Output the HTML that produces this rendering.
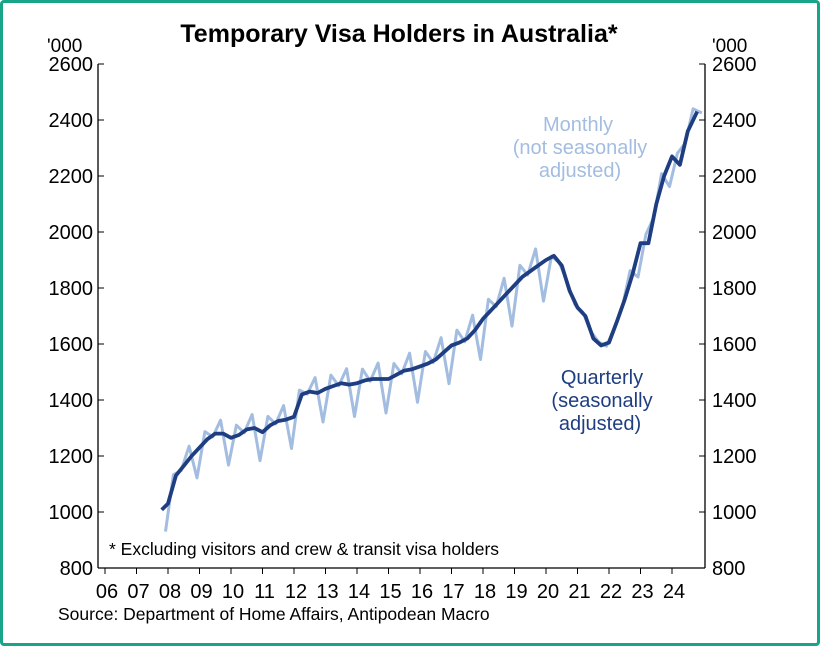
<!DOCTYPE html>
<html><head><meta charset="utf-8"><style>
body{margin:0;background:#fff}
#w{position:relative;width:814px;height:640px;border:3px solid #17a589;border-radius:4px;overflow:hidden;font-family:"Liberation Sans",sans-serif}
</style></head><body><div id="w">
<svg id="s" width="814" height="640" viewBox="3 3 814 640" style="position:absolute;left:0;top:0" font-family="Liberation Sans, sans-serif"></svg>
</div>
<script>
const s=document.getElementById('s');
const X=y=>105+(y-2006)*31.5, Y=v=>568-(v-800)*0.28;
let h='';
h+='<text x="399" y="42" font-size="25" font-weight="bold" text-anchor="middle">Temporary Visa Holders in Australia*</text>';
h+='<text x="47" y="52" font-size="19">\'000</text><text x="712" y="52" font-size="19">\'000</text>';
h+='<line x1="98" y1="64" x2="98" y2="568" stroke="#000" stroke-width="1.3"/><line x1="705" y1="64" x2="705" y2="568" stroke="#000" stroke-width="1.3"/><line x1="98" y1="568" x2="705" y2="568" stroke="#000" stroke-width="1.3"/>';
for(let v=800;v<=2600;v+=200){const y=Y(v);h+=`<line x1="98" y1="${y}" x2="104" y2="${y}" stroke="#000"/><line x1="699" y1="${y}" x2="705" y2="${y}" stroke="#000"/><text x="93" y="${y+7}" font-size="20" text-anchor="end">${v}</text><text x="712" y="${y+7}" font-size="20">${v}</text>`;}
for(let yr=2006;yr<=2024;yr++){const x=X(yr);h+=`<line x1="${x}" y1="568" x2="${x}" y2="574" stroke="#000"/><text x="${x+2}" y="598" font-size="20" text-anchor="middle">${String(yr).slice(2)}</text>`;}
const q=[[2007.8,1008],[2008,1030],[2008.25,1130],[2008.5,1165],[2008.75,1200],[2009,1230],[2009.25,1260],[2009.5,1280],[2009.75,1280],[2010,1265],[2010.25,1275],[2010.5,1295],[2010.75,1300],[2011,1285],[2011.25,1310],[2011.5,1325],[2011.75,1330],[2012,1340],[2012.25,1420],[2012.5,1430],[2012.75,1425],[2013,1440],[2013.25,1450],[2013.5,1460],[2013.75,1455],[2014,1460],[2014.25,1470],[2014.5,1475],[2014.75,1475],[2015,1475],[2015.25,1490],[2015.5,1505],[2015.75,1510],[2016,1520],[2016.25,1530],[2016.5,1545],[2016.75,1570],[2017,1595],[2017.25,1605],[2017.5,1620],[2017.75,1650],[2018,1690],[2018.25,1720],[2018.5,1750],[2018.75,1780],[2019,1810],[2019.25,1840],[2019.5,1860],[2019.75,1880],[2020,1900],[2020.25,1915],[2020.5,1880],[2020.75,1790],[2021,1730],[2021.25,1700],[2021.5,1620],[2021.75,1595],[2022,1605],[2022.25,1680],[2022.5,1760],[2022.75,1850],[2023,1960],[2023.25,1960],[2023.5,2100],[2023.75,2200],[2024,2270],[2024.25,2240],[2024.5,2360],[2024.8,2430]];
const interp=t=>{for(let i=0;i<q.length-1;i++){if(t>=q[i][0]&&t<=q[i+1][0]){const f=(t-q[i][0])/(q[i+1][0]-q[i][0]);return q[i][1]+f*(q[i+1][1]-q[i][1]);}}return q[q.length-1][1];};
let dp=q.map(p=>X(p[0]).toFixed(1)+','+Y(p[1]).toFixed(1)).join(' ');
const seas=[35,-5,45,-95];
let mp=[X(2007.92).toFixed(1)+','+Y(930).toFixed(1)];
for(let yr=2008;yr<=2024;yr++){for(let i=0;i<4;i++){const t=yr+0.17+i*0.25;if(t>2024.85)break;let v=interp(t);let k=1+(t-2008)*0.04;if(t>2020.1&&t<2022.4)k=0.1;else if(t>2022.4)k=0.9;v+=seas[i]*k;mp.push(X(t).toFixed(1)+','+Y(v).toFixed(1));}}
mp.push(X(2024.95).toFixed(1)+','+Y(2425).toFixed(1));
h+=`<polyline points="${mp.join(' ')}" fill="none" stroke="#a3bde0" stroke-width="3" stroke-linejoin="round"/>`;
h+=`<polyline points="${dp}" fill="none" stroke="#1f3e82" stroke-width="3.8" stroke-linejoin="round"/>`;
h+='<g font-size="20" fill="#a3bde0" text-anchor="middle"><text x="578" y="131">Monthly</text><text x="580" y="154">(not seasonally</text><text x="580" y="177">adjusted)</text></g>';
h+='<g font-size="20" fill="#1f3e82" text-anchor="middle"><text x="602" y="384">Quarterly</text><text x="602" y="407">(seasonally</text><text x="600" y="430">adjusted)</text></g>';
h+='<text x="109" y="555" font-size="17.5">* Excluding visitors and crew &amp; transit visa holders</text>';
h+='<text x="58" y="620" font-size="17.5">Source: Department of Home Affairs, Antipodean Macro</text>';
s.innerHTML=h;
</script></body></html>
